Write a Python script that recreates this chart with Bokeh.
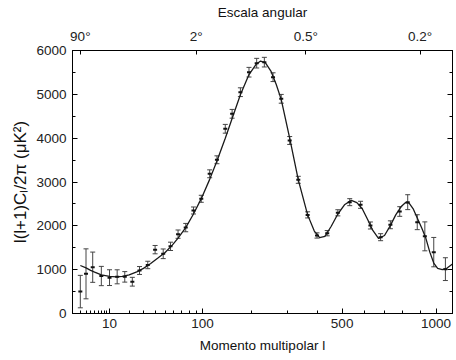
import numpy as np
from bokeh.plotting import figure
from bokeh.models import (Range1d, LinearAxis, FixedTicker, CustomJSTickFormatter,
                          ColumnDataSource, Whisker, TeeHead, SingleIntervalTicker)
from bokeh.embed import file_html
from bokeh.resources import INLINE

# ---------------- data ----------------
# binned measurements: multipole l, l(l+1)C_l/2pi [uK^2], half error bar
pt_l = [2, 3, 4.5, 7, 10, 13.4, 17.4, 22, 27, 33.5, 40, 48, 56, 65, 75, 86, 98,
        112, 125, 141, 155, 173, 193, 212, 232, 256, 280, 306, 334, 366, 400,
        439, 482, 533, 582, 629, 680, 731, 782, 827, 883, 929, 985, 1061]
pt_D = [500, 905, 1056, 855, 818, 837, 836, 725, 981, 1107, 1457, 1362, 1532,
        1810, 1960, 2350, 2617, 3187, 3507, 4214, 4556, 5049, 5505, 5711, 5734,
        5391, 4898, 3947, 3050, 2250, 1780, 1832, 2297, 2540, 2480, 2008, 1741,
        2024, 2327, 2540, 2083, 1760, 1400, 1012]
pt_err = [370, 570, 345, 220, 180, 160, 120, 100, 90, 85, 95, 110, 95, 95, 95,
          80, 80, 90, 90, 100, 100, 100, 110, 110, 110, 100, 100, 90, 80, 70,
          60, 60, 70, 80, 80, 80, 80, 90, 110, 170, 170, 330, 335, 260]

# model curve
cv_l = [2, 3, 4, 5, 7, 10, 13, 16, 20, 25, 30, 36, 43, 50, 58, 65, 75, 86, 98,
        112, 125, 141, 155, 173, 193, 210, 222, 235, 250, 265, 280, 306, 334,
        366, 390, 410, 430, 455, 482, 510, 540, 565, 590, 615, 640, 670, 700,
        730, 760, 790, 815, 835, 860, 883, 910, 935, 960, 985, 1010, 1040,
        1070, 1109]
cv_D = [1095, 1040, 985, 945, 880, 845, 835, 845, 880, 950, 1030, 1140, 1270,
        1390, 1560, 1720, 1960, 2270, 2620, 3060, 3480, 4000, 4450, 4990, 5450,
        5680, 5760, 5720, 5530, 5230, 4880, 4000, 3050, 2250, 1880, 1730, 1760,
        1990, 2270, 2480, 2580, 2530, 2390, 2150, 1900, 1710, 1780, 2000, 2250,
        2440, 2530, 2520, 2380, 2180, 1950, 1720, 1400, 1150, 1030, 1000, 1030,
        1130]

bottom_major = [10, 100, 500, 1000]
bottom_minor = [2, 3, 4, 5, 6, 7, 8, 9, 20, 30, 40, 50, 60, 70, 80, 90,
                200, 300, 400, 600, 700, 800, 900]
top_l = [2, 90, 360, 900]          # 90°, 2°, 0.5°, 0.2°  (theta ~ 180°/l)

# ---------------- x scale: the chart's axis is ~ l**0.4 ----------------
POW = 0.4
def pw(v):
    return np.asarray(v, dtype=float) ** POW

FONT = "Liberation Sans"
FS = "13.5px"

p = figure(width=456, height=360, output_backend="svg", toolbar_location=None,
           x_range=Range1d(float(pw(1)), float(pw(1109))), y_range=Range1d(0, 6000),
           min_border_left=72, min_border_right=4, min_border_top=50,
           min_border_bottom=47, x_axis_location=None, y_axis_location=None,
           background_fill_color="white", border_fill_color="white")
p.xgrid.visible = False
p.ygrid.visible = False
p.outline_line_color = "black"
p.outline_line_width = 1

def style(ax):
    ax.axis_line_color = "black"
    ax.major_tick_in = 5
    ax.major_tick_out = 0
    ax.minor_tick_in = 3
    ax.minor_tick_out = 0
    ax.major_tick_line_color = "black"
    ax.minor_tick_line_color = "black"
    ax.major_label_text_font = FONT
    ax.major_label_text_font_size = FS
    ax.major_label_text_color = "#222222"
    ax.axis_label_text_font = FONT
    ax.axis_label_text_font_style = "normal"
    ax.axis_label_text_color = "#111111"

inv = 1.0 / POW
bottom = LinearAxis(ticker=FixedTicker(ticks=list(pw(bottom_major)),
                                       minor_ticks=list(pw(bottom_minor))),
                    formatter=CustomJSTickFormatter(
                        code="return String(Math.round(Math.pow(tick, %r)));" % inv),
                    axis_label="Momento multipolar l")
style(bottom)
bottom.major_label_standoff = 5
bottom.axis_label_standoff = 7
bottom.axis_label_text_font_size = FS
p.add_layout(bottom, "below")

top = LinearAxis(ticker=FixedTicker(ticks=list(pw(top_l)), minor_ticks=[]),
                 formatter=CustomJSTickFormatter(
                     code=("var l = Math.round(Math.pow(tick, %r));"
                           "var d = Math.round(1800 / l) / 10;"
                           "return d + '\u00b0';") % inv),
                 axis_label="Escala angular")
style(top)
top.major_tick_in = 4
top.major_label_standoff = 7
top.axis_label_standoff = 6
top.axis_label_text_font_size = FS
p.add_layout(top, "above")

left = LinearAxis(ticker=SingleIntervalTicker(interval=1000, num_minor_ticks=2),
                  axis_label="l(l+1)C\u2097/2\u03c0 (\u03bcK\u00b2)")
style(left)
left.major_label_standoff = 6
left.axis_label_standoff = 3
left.axis_label_text_font_size = "17px"
p.add_layout(left, "left")

right = LinearAxis(ticker=SingleIntervalTicker(interval=1000, num_minor_ticks=2),
                   formatter=CustomJSTickFormatter(code="return '';"))
style(right)
right.major_label_standoff = 0
p.add_layout(right, "right")

# ---------------- glyphs ----------------
pl = pw(pt_l)
pD = np.asarray(pt_D, float)
pe = np.asarray(pt_err, float)
src = ColumnDataSource(dict(x=pl, y=pD, lo=pD - pe, hi=pD + pe))

p.line(pw(cv_l), cv_D, line_color="#1a1a1a", line_width=1.3)

wc = "#444444"
p.add_layout(Whisker(source=src, base="x", upper="hi", lower="lo",
                     dimension="height", line_color=wc, line_width=1,
                     upper_head=TeeHead(size=5, line_color=wc, line_width=1),
                     lower_head=TeeHead(size=5, line_color=wc, line_width=1)))
p.scatter("x", "y", source=src, marker="dash", size=4, line_width=2,
          color="#111111")

open("out.html", "w").write(file_html(p, INLINE))
